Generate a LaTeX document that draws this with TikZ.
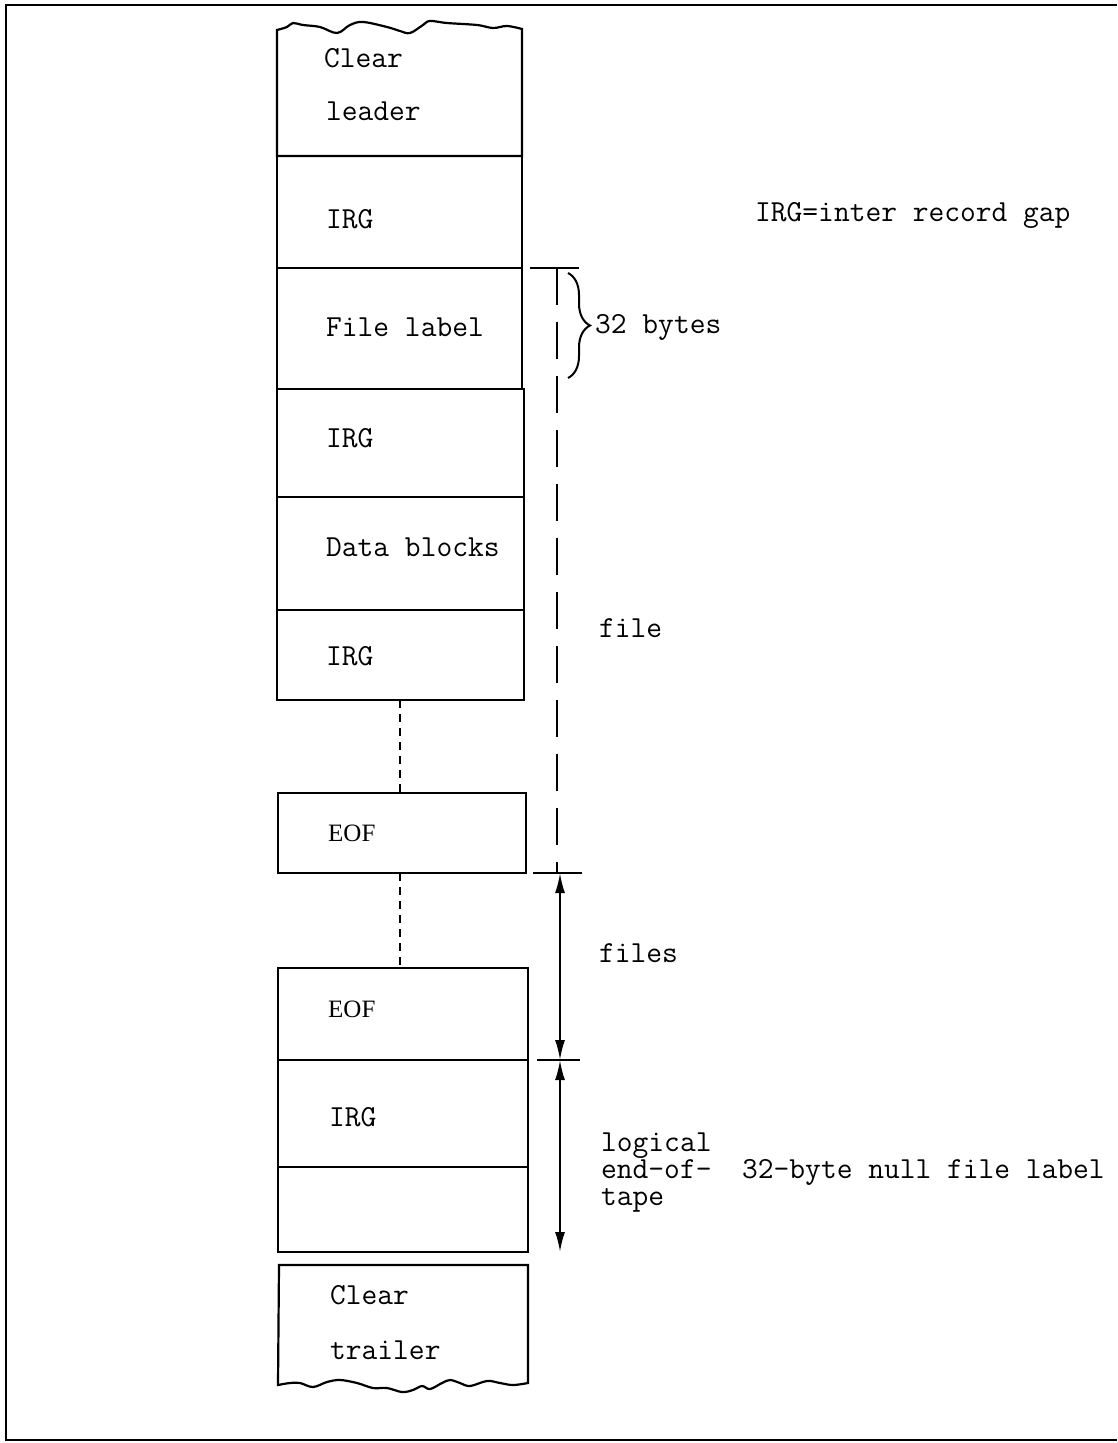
\documentclass[tikz,border=0pt]{standalone}
\usepackage{fontspec}
\newfontfamily\cour{Latin Modern Mono}
\newfontfamily\tms{Liberation Serif}
\usetikzlibrary{arrows.meta,decorations.pathreplacing}
\begin{document}
\begin{tikzpicture}[x=1pt,y=-1pt,
  box/.style={draw, line width=2.2pt, inner sep=0pt, outer sep=0pt},
  seg/.style={box, minimum width=#1},
  lbl/.style={anchor=west, inner sep=0pt, font=\cour\fontsize{30.6}{27}\selectfont},
  tight/.style={text height=12pt, text depth=4pt},
  rlbl/.style={anchor=west, inner sep=0pt, font=\tms\fontsize{25}{26}\selectfont},
  dimline/.style={line width=2pt},
  dotcon/.style={line width=1.8pt, dash pattern=on 8pt off 6pt},
  longdash/.style={line width=2pt, dash pattern=on 37pt off 17pt},
  dimarrow/.style={line width=2pt, {Latex[length=20pt,width=10pt]}-{Latex[length=20pt,width=10pt]}},
  curly/.style={line width=2pt, decorate, decoration={brace, amplitude=22pt, aspect=0.5}}
]
\useasboundingbox (0,0) rectangle (1117,1443);
% frame
\draw[line width=2pt] (1117,5) -- (6,5) -- (6,1440) -- (1117,1440);

% leader with torn top
\draw[box] (277,156) -- (277,30) -- plot[smooth, tension=0.6] coordinates {(277,30) (287,27) (293,23) (303,25) (320,27) (337,33) (350,25) (363,22) (387,27) (400,31) (410,33) (423,25) (430,21) (447,23) (477,25) (493,28) (507,26) (522,29)} -- (522,156) -- cycle;

% upper stack
\node[seg=245pt, minimum height=112pt] (irgA) at (399.5,212) {};
\node[seg=245pt, minimum height=121pt] (flabel) at (399.5,328.5) {};
\node[seg=247pt, minimum height=108pt] (irgB) at (400.5,443) {};
\node[seg=247pt, minimum height=113pt] (data) at (400.5,553.5) {};
\node[seg=247pt, minimum height=90pt] (irgC) at (400.5,655) {};
% EOF
\node[seg=248pt, minimum height=80pt] (eofA) at (402,833) {};
% lower stack
\node[seg=250pt, minimum height=92pt] (eofB) at (403,1014) {};
\node[seg=250pt, minimum height=107pt] (irgD) at (403,1113.5) {};
\node[seg=250pt, minimum height=85pt] (nullbox) at (403,1209.5) {};

% trailer with torn bottom
\draw[box] (528,1265) -- (279,1265) -- (278,1385) -- plot[smooth, tension=0.6] coordinates {(278,1385) (290,1383) (300,1383) (313,1387) (327,1382) (340,1380) (357,1383) (373,1388) (387,1388) (402,1392) (413,1390) (422,1386) (430,1389) (442,1383) (450,1380) (460,1383) (470,1386) (487,1381) (500,1383) (513,1385) (528,1383)} -- cycle;

% dashed continuation lines
\draw[dotcon] (irgC.south -| 400,0) -- (eofA.north -| 400,0);
\draw[dotcon] (eofA.south -| 400,0) -- (eofB.north -| 400,0);

% texts in boxes
\node[lbl] (t1) at (324,58) {Clear};
\node[lbl] (t2) at (326,111) {leader};
\node[lbl] (t3) at (326,219) {IRG};
\node[lbl] (t4) at (326,327) {File label};
\node[lbl] (t5) at (326,438) {IRG};
\node[lbl] (t6) at (326,547) {Data blocks};
\node[lbl] (t7) at (326,656) {IRG};
\node[rlbl] (t8) at (328,833) {EOF};
\node[rlbl] (t9) at (328,1009) {EOF};
\node[lbl] (t10) at (329,1117) {IRG};
\node[lbl] (t11) at (330,1295) {Clear};
\node[lbl] (t12) at (330,1350) {trailer};

% right-side texts
\node[lbl] (gap) at (755,215) {IRG=inter record gap};
\node[lbl] (bytes) at (595,327) {32 bytes};
\node[lbl] (file) at (599,628) {file};
\node[lbl] (files) at (599,953) {files};
\node[lbl, tight, anchor=base west] (lendA) at (601,1151) {logical};
\node[lbl, tight, anchor=base west] (lendB) at (601,1178) {end-of-};
\node[lbl, tight, anchor=base west] (lendC) at (601,1205) {tape};
\node[lbl, tight, anchor=base west] (nulllab) at (742,1178) {32-byte null file label};

% dimension marks
\coordinate (d1) at (557,268);
\coordinate (d2) at (557,873);
\coordinate (d3) at (560,1060);
\coordinate (d4) at (560,1252);
\draw[dimline] (530,268) -- (579,268);
\draw[dimline] (533,873) -- (582,873);
\draw[dimline] (537,1060) -- (580,1060);
\draw[longdash] (d1) -- (d2);
\draw[dimarrow] (560,873) -- (d3);
\draw[dimarrow] (d3) -- (d4);

% brace
\draw[curly] (568,273) -- (568,378);
\end{tikzpicture}
\end{document}
